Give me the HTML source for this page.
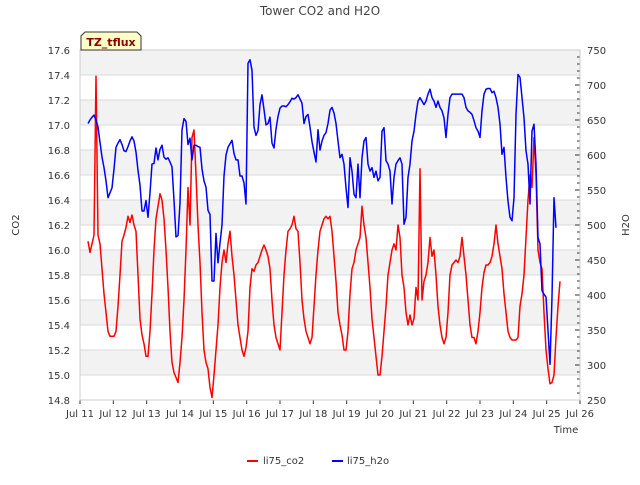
<!DOCTYPE html>
<html><head><meta charset="utf-8"><style>
body{margin:0;background:#fff;font-family:"Liberation Sans","DejaVu Sans",sans-serif;}
svg text{font-family:"DejaVu Sans","Liberation Sans",sans-serif;}
</style></head><body>
<svg id="c" width="640" height="480" xmlns="http://www.w3.org/2000/svg"></svg>
<script>
const xTickLabels=["Jul 11","Jul 12","Jul 13","Jul 14","Jul 15","Jul 16","Jul 17","Jul 18","Jul 19","Jul 20","Jul 21","Jul 22","Jul 23","Jul 24","Jul 25","Jul 26"];
const co2Ticks=[14.8,15.0,15.2,15.4,15.6,15.8,16.0,16.2,16.4,16.6,16.8,17.0,17.2,17.4,17.6];
const h2oTicks=[250,300,350,400,450,500,550,600,650,700,750];
const startDay=0.24, stepDay=0.06;
const co2=[16.07,15.98,16.05,16.12,17.39,16.12,16.05,15.85,15.65,15.5,15.35,15.31,15.31,15.31,15.35,15.55,15.8,16.07,16.12,16.18,16.27,16.22,16.28,16.2,16.15,15.8,15.45,15.32,15.25,15.15,15.15,15.35,15.65,16.0,16.25,16.35,16.45,16.4,16.25,16.0,15.7,15.35,15.1,15.02,14.98,14.94,15.1,15.3,15.6,16.0,16.5,16.2,16.9,16.96,16.6,16.2,15.9,15.5,15.2,15.1,15.05,14.9,14.82,15.0,15.2,15.4,15.7,15.9,16.0,15.9,16.05,16.15,15.95,15.8,15.6,15.4,15.3,15.2,15.15,15.22,15.35,15.7,15.85,15.83,15.88,15.9,15.95,16.0,16.04,16.0,15.95,15.85,15.6,15.4,15.3,15.25,15.2,15.5,15.8,16.0,16.15,16.17,16.2,16.27,16.17,16.15,15.9,15.6,15.45,15.35,15.3,15.25,15.3,15.55,15.8,16.0,16.15,16.2,16.25,16.27,16.25,16.27,16.15,15.95,15.75,15.5,15.4,15.32,15.2,15.2,15.35,15.65,15.85,15.9,16.0,16.05,16.1,16.35,16.2,16.1,15.9,15.7,15.45,15.3,15.15,15.0,15.0,15.15,15.35,15.55,15.8,15.9,16.0,16.05,16.0,16.2,16.1,15.8,15.7,15.5,15.4,15.48,15.4,15.45,15.7,15.6,16.65,15.6,15.75,15.8,15.9,16.1,15.95,16.0,15.8,15.55,15.4,15.3,15.25,15.3,15.5,15.8,15.88,15.9,15.92,15.9,15.95,16.1,15.95,15.8,15.6,15.4,15.3,15.3,15.25,15.35,15.5,15.7,15.82,15.88,15.88,15.9,15.95,16.05,16.2,16.05,15.95,15.85,15.65,15.5,15.35,15.3,15.28,15.28,15.28,15.3,15.55,15.65,15.8,16.1,16.4,16.6,16.5,16.9,16.6,16.0,15.9,15.85,15.5,15.2,15.05,14.93,14.94,15.0,15.3,15.55,15.75];
const h2o=[645,650,654,657,650,640,618,597,582,563,539,546,553,580,611,617,622,615,606,605,612,620,626,620,604,578,557,520,520,535,511,546,587,588,610,593,608,614,597,594,596,590,583,535,483,485,531,636,652,648,615,624,593,614,614,612,611,580,563,554,521,515,420,420,488,446,474,500,570,600,611,616,621,602,593,593,570,570,560,530,731,736,721,640,628,635,672,686,665,643,645,654,617,610,637,655,667,670,670,669,672,676,681,680,682,686,680,674,645,655,658,640,619,604,590,636,607,620,628,632,645,664,668,660,645,620,
596,601,587,553,525,596,577,544,539,587,539,596,620,625,587,577,582,568,577,563,568,634,639,592,587,577,530,568,587,592,596,587,501,511,568,587,620,634,658,677,682,677,672,677,687,694,682,677,668,677,668,663,653,625,658,682,687,687,687,687,687,687,682,668,663,661,658,649,639,634,625,663,687,694,695,695,689,691,682,668,644,601,611,568,534,511,506,539,658,715,711,682,653,606,587,530,634,644,587,482,473,406,401,397,349,301,397,539,496];

const L=80,R=580,T=50,B=400;
const xS=d=>L+d*(R-L)/15;
const yC=v=>B-(v-14.8)*(B-T)/2.8;
const yH=v=>B-(v-250)*(B-T)/500;
const svg=document.getElementById('c');
const NS='http://www.w3.org/2000/svg';
function mk(tag,attrs,parent){const e=document.createElementNS(NS,tag);for(const k in attrs)e.setAttribute(k,attrs[k]);(parent||svg).appendChild(e);return e;}

for(let i=0;i<co2Ticks.length-1;i++){
  if(i%2===1){const r=mk('rect',{x:L,y:yC(co2Ticks[i+1]),width:R-L,height:yC(co2Ticks[i])-yC(co2Ticks[i+1]),fill:'#f2f2f2'});
  
  }
}
co2Ticks.forEach(v=>{
  const g=mk('line',{x1:L,x2:R,y1:yC(v),y2:yC(v),stroke:'#d9d9d9','stroke-width':1});
  
  
  const t=mk('text',{x:L-10,y:yC(v)+4,'text-anchor':'end','font-size':10,fill:'#333'});t.textContent=v.toFixed(1);
  
  
});
h2oTicks.forEach(v=>{
  const t=mk('text',{x:R+7,y:yH(v)+4,'text-anchor':'start','font-size':10,fill:'#333'});t.textContent=v;
  
  
});
for(let v=250;v<=750;v+=10){
  const big=v%50===0;
  const tk=mk('line',{x1:R,x2:R-(big?5:3),y1:yH(v),y2:yH(v),stroke:'#333','stroke-width':1});
  
  
}
xTickLabels.forEach((s,i)=>{
  const tk=mk('line',{x1:xS(i),x2:xS(i),y1:B,y2:B+4,stroke:'#333'});
  
  
  const t=mk('text',{x:xS(i),y:B+17,'text-anchor':'middle','font-size':10,fill:'#333'});t.textContent=s;
  
  
});
const ax=mk('rect',{x:L,y:T,width:R-L,height:B-T,fill:'none',stroke:'#ccc'});



function line(arr,ys,color,name){
  const p=arr.map((v,i)=>xS(startDay+i*stepDay).toFixed(1)+','+ys(v).toFixed(1)).join(' ');
  const pl=mk('polyline',{points:p,fill:'none',stroke:color,'stroke-width':1.5,'stroke-linejoin':'round'});
  
  
}
line(co2,yC,'#ff0000','series-li75-co2');
line(h2o,yH,'#0000ff','series-li75-h2o');
</script>
<svg width="640" height="480" style="position:absolute;left:0;top:0" xmlns="http://www.w3.org/2000/svg">
<text x="320" y="15" text-anchor="middle" font-size="12" fill="#444">Tower CO2 and H2O</text>
<text x="19" y="225" text-anchor="middle" font-size="10" fill="#333" transform="rotate(-90 19 225)">CO2</text>
<text x="629" y="225" text-anchor="middle" font-size="10" fill="#333" transform="rotate(-90 629 225)">H2O</text>
<text x="566" y="433" text-anchor="middle" font-size="10" fill="#333">Time</text>
<path d="M81,50 L81,36 L85,32 L137,32 L141,36 L141,50 Z" fill="#ffffc8" stroke="#333"/>
<text x="111" y="46" text-anchor="middle" font-size="11" font-weight="bold" fill="#8b0000">TZ_tflux</text>
<line x1="247" x2="258" y1="461" y2="461" stroke="#ff0000" stroke-width="2"/>
<text x="263" y="464" font-size="10" fill="#333">li75_co2</text>
<line x1="332" x2="343" y1="461" y2="461" stroke="#0000ff" stroke-width="2"/>
<text x="347" y="464" font-size="10" fill="#333">li75_h2o</text>
</svg>
</body></html>
